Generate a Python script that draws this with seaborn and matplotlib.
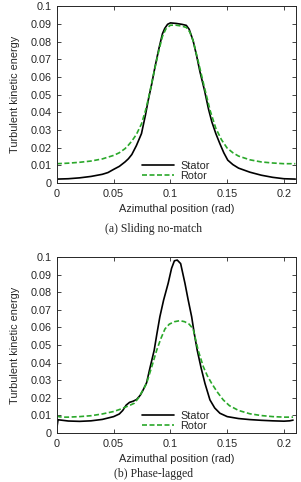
import numpy as np
import pandas as pd
import matplotlib
matplotlib.use("Agg")
import matplotlib.pyplot as plt
import seaborn as sns

# data (x in rad, y = turbulent kinetic energy)
a_stator_x = [0, 0.01, 0.02, 0.03, 0.04, 0.045, 0.05, 0.055, 0.06, 0.063, 0.066, 0.07, 0.0745, 0.078,
              0.0805, 0.0835, 0.0865, 0.09, 0.093, 0.095, 0.0975, 0.1, 0.105, 0.11, 0.114, 0.1165,
              0.12, 0.123, 0.126, 0.13, 0.1335, 0.1365, 0.14, 0.1435, 0.147, 0.1505, 0.155, 0.16,
              0.17, 0.18, 0.19, 0.2, 0.21]
a_stator_y = [0.0023, 0.0025, 0.003, 0.0038, 0.005, 0.006, 0.0078, 0.0095, 0.012, 0.0138, 0.0162,
              0.0212, 0.028, 0.0385, 0.047, 0.056, 0.066, 0.0765, 0.0845, 0.0875, 0.0898, 0.0906,
              0.0903, 0.0898, 0.0892, 0.087, 0.0805, 0.0722, 0.063, 0.0525, 0.042, 0.0346, 0.028,
              0.0224, 0.0172, 0.013, 0.0105, 0.0085, 0.0062, 0.0045, 0.0033, 0.0025, 0.0023]
a_rotor_x = [0, 0.01, 0.02, 0.03, 0.04, 0.05, 0.055, 0.06, 0.063, 0.066, 0.07, 0.0745, 0.078, 0.0805,
             0.0835, 0.0865, 0.09, 0.093, 0.096, 0.1, 0.105, 0.11, 0.114, 0.117, 0.12, 0.125, 0.13,
             0.135, 0.14, 0.145, 0.15, 0.155, 0.16, 0.17, 0.18, 0.19, 0.2, 0.21]
a_rotor_y = [0.011, 0.0113, 0.0118, 0.0125, 0.0137, 0.0157, 0.0172, 0.0195, 0.0215, 0.0238, 0.0275,
             0.0335, 0.041, 0.0475, 0.0565, 0.0655, 0.0755, 0.083, 0.0872, 0.0893, 0.0893, 0.0888,
             0.088, 0.0855, 0.0805, 0.0675, 0.054, 0.041, 0.031, 0.0245, 0.0198, 0.0172, 0.0153,
             0.0132, 0.012, 0.0114, 0.011, 0.011]

b_stator_x = [0, 0.001, 0.005, 0.01, 0.02, 0.03, 0.04, 0.05, 0.055, 0.058, 0.061, 0.064, 0.067,
              0.0702, 0.0735, 0.076, 0.079, 0.082, 0.0857, 0.088, 0.0907, 0.094, 0.098, 0.101,
              0.1035, 0.106, 0.109, 0.1128, 0.1155, 0.1187, 0.121, 0.1236, 0.127, 0.1304, 0.1348,
              0.139, 0.1436, 0.15, 0.16, 0.17, 0.18, 0.19, 0.2, 0.205, 0.208]
b_stator_y = [0.003, 0.0075, 0.0072, 0.0068, 0.0066, 0.0069, 0.0077, 0.0093, 0.0108, 0.0128,
              0.0158, 0.0174, 0.018, 0.019, 0.0215, 0.0245, 0.0285, 0.037, 0.047, 0.056, 0.066,
              0.0755, 0.085, 0.0935, 0.0978, 0.0982, 0.0962, 0.085, 0.076, 0.066, 0.0565, 0.047,
              0.037, 0.0282, 0.0188, 0.0142, 0.0112, 0.0093, 0.0082, 0.0076, 0.0072, 0.0069,
              0.0067, 0.0069, 0.0073]
b_rotor_x = [0, 0.002, 0.005, 0.01, 0.02, 0.03, 0.04, 0.05, 0.055, 0.06, 0.0645, 0.0682, 0.072,
             0.0755, 0.079, 0.0835, 0.0879, 0.0915, 0.0952, 0.099, 0.1035, 0.1084, 0.1125, 0.1165,
             0.12, 0.1244, 0.129, 0.1325, 0.1363, 0.141, 0.1465, 0.152, 0.16, 0.17, 0.18, 0.19,
             0.2, 0.208]
b_rotor_y = [0.0098, 0.0092, 0.009, 0.009, 0.0093, 0.0098, 0.0108, 0.0122, 0.0133, 0.0146, 0.0158,
             0.0169, 0.02, 0.024, 0.0282, 0.0375, 0.047, 0.0535, 0.0591, 0.0618, 0.0632, 0.0638,
             0.0632, 0.0618, 0.0591, 0.047, 0.0376, 0.0325, 0.0282, 0.0235, 0.0188, 0.0155,
             0.0128, 0.0109, 0.0099, 0.0093, 0.009, 0.009]

captions = ["(a) Sliding no-match", "(b) Phase-lagged"]
green = "#2aa82a"

sns.set_style("ticks")
plt.rcParams["font.family"] = ["Liberation Sans", "DejaVu Sans"]
plt.rcParams["xtick.direction"] = "in"
plt.rcParams["ytick.direction"] = "in"

fig = plt.figure(figsize=(3.01, 4.82), dpi=100)
# [left, bottom, width, height] in figure fraction
rects = [[0.189, 0.620, 0.794, 0.367], [0.189, 0.1017, 0.794, 0.3653]]
cap_y = [0.513, 0.004]

datasets = [(a_stator_x, a_stator_y, a_rotor_x, a_rotor_y),
            (b_stator_x, b_stator_y, b_rotor_x, b_rotor_y)]

for i, (sx, sy, rx, ry) in enumerate(datasets):
    ax = fig.add_axes(rects[i])
    df = pd.concat([
        pd.DataFrame({"x": sx, "y": sy, "series": "Stator"}),
        pd.DataFrame({"x": rx, "y": ry, "series": "Rotor"}),
    ])
    sns.lineplot(data=df, x="x", y="y", hue="series", style="series",
                 palette={"Stator": "black", "Rotor": green},
                 dashes={"Stator": "", "Rotor": (3, 1.5)},
                 linewidth=1.2, ax=ax, sort=False)
    ax.set_xlim(0, 0.2105)
    ax.set_ylim(0, 0.1)
    ax.set_xticks([0, 0.05, 0.1, 0.15, 0.2])
    ax.set_xticklabels(["0", "0.05", "0.1", "0.15", "0.2"])
    ax.set_yticks(np.arange(0, 0.1001, 0.01))
    ax.set_yticklabels(["0"] + ["%g" % v for v in np.round(np.arange(0.01, 0.1001, 0.01), 2)])
    ax.tick_params(labelsize=7.8, length=3, width=0.6, top=True, right=True, pad=4)
    for s in ax.spines.values():
        s.set_linewidth(0.7)
    ax.set_xlabel("Azimuthal position (rad)", fontsize=7.8, labelpad=4)
    ax.set_ylabel("Turbulent kinetic energy", fontsize=7.8, labelpad=7)
    ax.legend(loc="lower left", bbox_to_anchor=(0.33, -0.025), frameon=False, fontsize=7.8,
              handlelength=2.9, handletextpad=0.6, labelspacing=0.0, borderaxespad=0.2)
    fig.text(0.51, cap_y[i], captions[i], ha="center", va="bottom", fontsize=8.5,
             family=["Liberation Serif", "DejaVu Serif"])

fig.savefig("out.png", dpi=100)
